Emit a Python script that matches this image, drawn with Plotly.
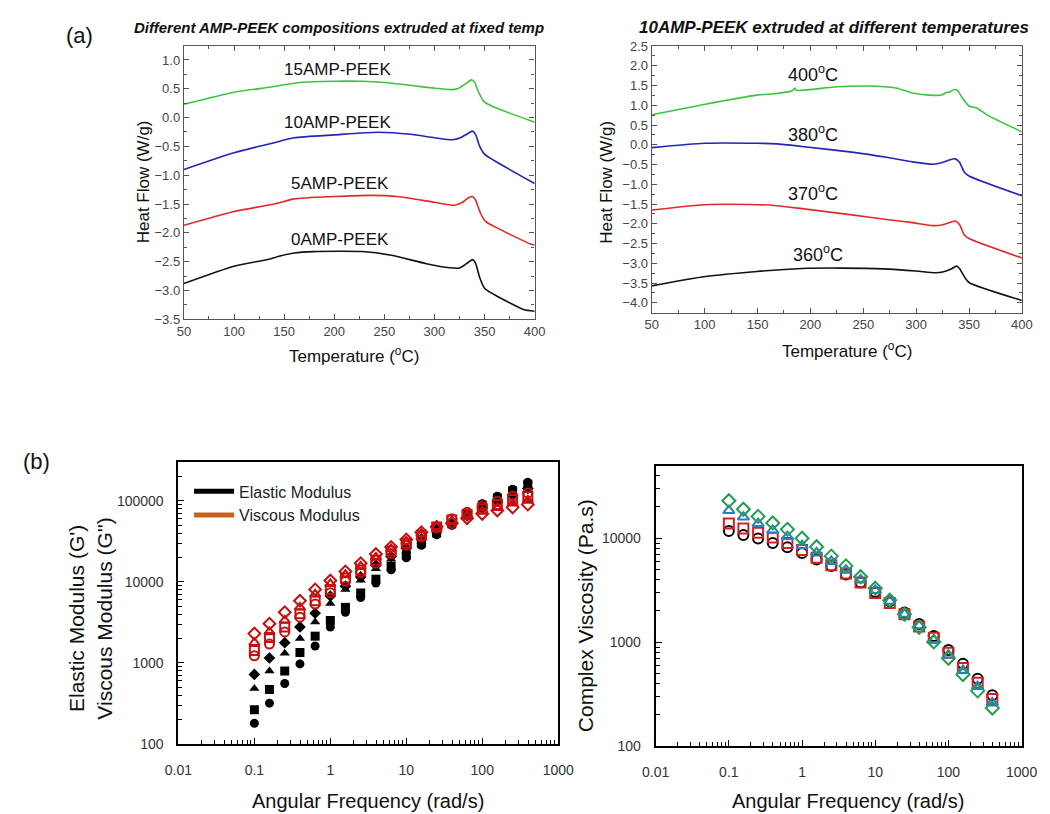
import plotly.graph_objects as go

FONT = "Arial, 'Liberation Sans', Helvetica, sans-serif"

# ---------------- (a) left: different compositions ----------------
t_15amp = [50, 100, 137, 150, 166, 200, 228, 250, 276, 300, 317, 323, 331, 337, 340, 344, 349, 357, 400]
h_15amp = [0.23, 0.44, 0.53, 0.57, 0.61, 0.63, 0.63, 0.61, 0.56, 0.51, 0.485, 0.50, 0.585, 0.655, 0.615, 0.445, 0.285, 0.20, -0.08]

t_10amp = [50, 100, 137, 160, 200, 244, 276, 300, 318, 326, 333, 338, 341, 345, 350, 360, 400]
h_10amp = [-0.90, -0.61, -0.45, -0.35, -0.30, -0.255, -0.29, -0.35, -0.385, -0.35, -0.28, -0.235, -0.29, -0.49, -0.635, -0.75, -1.145]

t_5amp = [50, 100, 140, 160, 200, 237, 263, 300, 320, 328, 334, 338, 341, 346, 351, 362, 396, 400]
h_5amp = [-1.87, -1.63, -1.50, -1.41, -1.37, -1.35, -1.37, -1.47, -1.52, -1.47, -1.39, -1.37, -1.43, -1.66, -1.80, -1.91, -2.195, -2.21]

t_0amp = [50, 100, 137, 144, 160, 179, 228, 257, 292, 315, 325, 332, 338, 341, 345, 350, 360, 389, 400]
h_0amp = [-2.88, -2.58, -2.45, -2.41, -2.35, -2.325, -2.325, -2.39, -2.535, -2.605, -2.61, -2.535, -2.465, -2.525, -2.765, -2.96, -3.075, -3.33, -3.36]

labels_left = ["15AMP-PEEK", "10AMP-PEEK", "5AMP-PEEK", "0AMP-PEEK"]
label_left_x = [203, 203, 206, 206]
label_left_y = [0.83, -0.09, -1.14, -2.12]

# ---------------- (a) right: different extrusion temperatures ----------------
t_400c = [50, 100.5, 149.5, 168, 183, 185, 187, 223, 253.6, 281, 296.5, 312, 324, 328.6, 331.7, 336, 339, 344, 350, 357.7, 367, 400]
h_400c = [0.76, 1.03, 1.26, 1.30, 1.37, 1.43, 1.38, 1.465, 1.49, 1.44, 1.315, 1.26, 1.26, 1.325, 1.34, 1.40, 1.38, 1.175, 0.985, 0.925, 0.76, 0.33]

t_380c = [50, 100, 150, 168, 192, 241, 272, 296.5, 316, 324, 332, 337, 341, 345.5, 350, 400]
h_380c = [-0.07, 0.04, 0.04, 0.025, -0.04, -0.19, -0.315, -0.43, -0.49, -0.455, -0.375, -0.355, -0.44, -0.69, -0.79, -1.29]

t_370c = [50, 100, 150, 168, 192, 241, 272, 296.5, 316, 324, 332, 337, 341, 345.5, 350, 400]
h_370c = [-1.65, -1.515, -1.515, -1.54, -1.615, -1.78, -1.89, -1.97, -2.045, -2.03, -1.965, -1.93, -2.015, -2.28, -2.37, -2.865]

t_360c = [50, 100.5, 149.5, 192, 229, 269, 300, 318, 326, 334, 338, 341, 345.5, 350, 400]
h_360c = [-3.57, -3.335, -3.205, -3.13, -3.12, -3.14, -3.195, -3.24, -3.215, -3.13, -3.07, -3.13, -3.335, -3.485, -3.94]

labels_right = ["400<sup>o</sup>C", "380<sup>o</sup>C", "370<sup>o</sup>C", "360<sup>o</sup>C"]
label_right_x = [202, 202, 202, 207]
label_right_y = [1.81, 0.30, -1.21, -2.74]

# ---------------- (b) rheology ----------------
freq = [0.1, 0.158, 0.251, 0.398, 0.631, 1.0, 1.58, 2.51, 3.98, 6.31, 10.0, 15.8, 25.1, 39.8, 63.1, 100, 158, 251, 398]

gp_circle = [180, 319, 557, 973, 1620, 2780, 4220, 6400, 9700, 14100, 19800, 28200, 38000, 50000, 68000, 92000, 114000, 139000, 169000]
gp_square = [265, 471, 795, 1345, 2140, 3340, 4850, 7300, 10800, 15500, 21500, 30000, 40000, 52000, 67000, 88000, 108000, 132000, 160000]
gp_triangle = [485, 795, 1320, 2000, 3190, 5420, 8070, 10500, 14500, 19000, 24000, 32000, 42000, 54000, 66000, 85000, 102000, 125000, 150000]
gp_diamond = [722, 1150, 1780, 2780, 4100, 6700, 8850, 11500, 16000, 20500, 26000, 34000, 44000, 55000, 65000, 82000, 98000, 118000, 142000]

gpp_circle = [1225, 1710, 2415, 3670, 5320, 7360, 10170, 13000, 17000, 22400, 28200, 36000, 47000, 60000, 72000, 86000, 99000, 114000, 125000]
gpp_square = [1420, 2060, 2780, 4030, 5840, 8070, 11170, 14000, 18500, 24000, 30000, 37500, 47500, 58000, 68000, 80000, 90000, 104000, 113000]
gpp_triangle = [1780, 2415, 3340, 4850, 7020, 9460, 12240, 15500, 20000, 25500, 31500, 39000, 48000, 56000, 65000, 74000, 82000, 93000, 101000]
gpp_diamond = [2300, 3050, 4220, 5840, 8070, 10380, 13430, 17000, 22000, 27000, 33400, 41000, 48000, 53000, 61000, 69000, 76000, 83000, 90000]

eta_circle = [11720, 10740, 9930, 8980, 8170, 7230, 6250, 5420, 4490, 3750, 3040, 2480, 1930, 1500, 1148, 841, 621, 445, 310]
eta_square = [13840, 12420, 11300, 10140, 8980, 7710, 6490, 5500, 4590, 3750, 2970, 2390, 1860, 1415, 1107, 794, 565, 408, 285]
eta_triangle = [18460, 15990, 13840, 11890, 10370, 8470, 7230, 5990, 4930, 3970, 3150, 2480, 1860, 1445, 1060, 755, 537, 375, 261]
eta_diamond = [22960, 19010, 16220, 14030, 12170, 10000, 8280, 6730, 5420, 4270, 3310, 2540, 1860, 1395, 1007, 702, 489, 341, 233]

freq_ticks = [0.01, 0.1, 1, 10, 100, 1000]
freq_ticktext = ["0.01", "0.1", "1", "10", "100", "1000"]
mod_ticks = [100, 1000, 10000, 100000]
mod_ticktext = ["100", "1000", "10000", "100000"]
eta_ticks = [100, 1000, 10000]
eta_ticktext = ["100", "1000", "10000"]

GREEN = "#3dc43d"
BLUE = "#2424b8"
RED = "#e02a2a"
BLACK = "#111111"

fig = go.Figure()

for t, h, c in [(t_15amp, h_15amp, GREEN), (t_10amp, h_10amp, BLUE),
                (t_5amp, h_5amp, RED), (t_0amp, h_0amp, BLACK)]:
    fig.add_trace(go.Scatter(x=t, y=h, mode="lines", line=dict(color=c, width=1.6, shape="spline", smoothing=0.6),
                             showlegend=False, xaxis="x", yaxis="y"))
for t, h, c in [(t_400c, h_400c, GREEN), (t_380c, h_380c, BLUE),
                (t_370c, h_370c, RED), (t_360c, h_360c, BLACK)]:
    fig.add_trace(go.Scatter(x=t, y=h, mode="lines", line=dict(color=c, width=1.6, shape="spline", smoothing=0.6),
                             showlegend=False, xaxis="x2", yaxis="y2"))

DARKRED = "#c80f0f"
for vals, sym in [(gp_circle, "circle"), (gp_square, "square"), (gp_triangle, "triangle-up"), (gp_diamond, "diamond")]:
    fig.add_trace(go.Scatter(x=freq, y=vals, mode="markers",
                             marker=dict(symbol=sym, size=9, color="black", line=dict(width=0)),
                             showlegend=False, xaxis="x3", yaxis="y3"))
for vals, sym in [(gpp_circle, "circle-open"), (gpp_square, "square-open"), (gpp_triangle, "triangle-up-open"), (gpp_diamond, "diamond-open")]:
    fig.add_trace(go.Scatter(x=freq, y=vals, mode="markers",
                             marker=dict(symbol=sym, size=9, color=DARKRED, line=dict(width=2, color=DARKRED)),
                             showlegend=False, xaxis="x3", yaxis="y3"))

fig.add_trace(go.Scatter(x=[None], y=[None], mode="lines", line=dict(color="black", width=5),
                         name="Elastic Modulus", xaxis="x3", yaxis="y3"))
fig.add_trace(go.Scatter(x=[None], y=[None], mode="lines", line=dict(color="#c8601e", width=5),
                         name="Viscous Modulus", xaxis="x3", yaxis="y3"))

for vals, sym, col in [(eta_circle, "circle-open", "black"), (eta_square, "square-open", "#d42020"),
                       (eta_triangle, "triangle-up-open", "#2a7ec6"), (eta_diamond, "diamond-open", "#1ea050")]:
    fig.add_trace(go.Scatter(x=freq, y=vals, mode="markers",
                             marker=dict(symbol=sym, size=10, color=col, line=dict(width=2, color=col)),
                             showlegend=False, xaxis="x4", yaxis="y4"))

W, H = 1050, 814

def px(x):
    return x / W

def py(y):
    return 1 - y / H

top_common = dict(showgrid=False, zeroline=False, showline=True, linecolor="#555555", linewidth=1.3,
                  mirror="allticks", ticks="inside", ticklen=5, tickwidth=1.2, tickcolor="#555555",
                  tickfont=dict(family=FONT, size=13, color="#444444"))
top_minor = dict(ticks="inside", ticklen=3, tickwidth=1, tickcolor="#555555", showgrid=False)

bot_common = dict(showgrid=False, zeroline=False, showline=True, linecolor="black", linewidth=2,
                  mirror=True, ticks="inside", ticklen=6, tickwidth=1.3, tickcolor="black", type="log",
                  tickfont=dict(family=FONT, size=14, color="#333333"), tickmode="array")
minor_log = [m * 10 ** e for e in range(-2, 6) for m in range(2, 10)]
bot_minor = dict(ticks="inside", ticklen=4, tickwidth=1.2, tickcolor="black", showgrid=False,
                 tickmode="array", tickvals=minor_log)

fig.update_layout(
    width=W, height=H, margin=dict(l=0, r=0, t=0, b=0),
    paper_bgcolor="white", plot_bgcolor="white",
    font=dict(family=FONT, color="black", size=14),
    showlegend=True,
    legend=dict(x=px(172), y=py(468), xanchor="left", yanchor="top", bgcolor="rgba(0,0,0,0)",
                font=dict(family=FONT, size=16, color="#222222"), tracegroupgap=0, itemwidth=40),
    xaxis=dict(domain=[px(166.7), px(527.7)], anchor="y", range=[50, 400], tick0=50, dtick=50,
               minor=dict(dtick=25, **top_minor), **top_common),
    yaxis=dict(domain=[py(310), py(31.7)], anchor="x", range=[-3.5, 1.24], tick0=0, dtick=0.5,
               tickformat=".1f", minor=dict(dtick=0.25, **top_minor), **top_common),
    xaxis2=dict(domain=[px(648.3), px(1029.3)], anchor="y2", range=[50, 400], tick0=50, dtick=50,
                minor=dict(dtick=25, **top_minor), **top_common),
    yaxis2=dict(domain=[py(303.3), py(31.7)], anchor="x2", range=[-4.25, 2.5], tick0=0, dtick=0.5,
                tickformat=".1f", minor=dict(dtick=0.25, **top_minor), **top_common),
    xaxis3=dict(domain=[px(161), px(552)], anchor="y3", range=[-2, 3], tickvals=freq_ticks,
                ticktext=freq_ticktext, ticklabelstandoff=12, minor=bot_minor, **bot_common),
    yaxis3=dict(domain=[py(742.7), py(455.7)], anchor="x3", range=[2, 5.475], tickvals=mod_ticks,
                ticktext=mod_ticktext, ticklabelstandoff=10, minor=bot_minor, **bot_common),
    xaxis4=dict(domain=[px(652.3), px(1029)], anchor="y4", range=[-2, 3], tickvals=freq_ticks,
                ticktext=freq_ticktext, ticklabelstandoff=12, minor=bot_minor, **bot_common),
    yaxis4=dict(domain=[py(745), py(459)], anchor="x4", range=[2, 4.699], tickvals=eta_ticks,
                ticktext=eta_ticktext, ticklabelstandoff=10, minor=bot_minor, **bot_common),
)

ann = []
for txt, x, y in zip(labels_left, label_left_x, label_left_y):
    ann.append(dict(text=txt, x=x, y=y, xref="x", yref="y", showarrow=False,
                    font=dict(family=FONT, size=17, color="#111111")))
for txt, x, y in zip(labels_right, label_right_x, label_right_y):
    ann.append(dict(text=txt, x=x, y=y, xref="x2", yref="y2", showarrow=False,
                    font=dict(family=FONT, size=18, color="#111111")))

# free-standing labels: (text, x_px, y_px, font size, angle)
free_texts = [
    ("(a)", 59, 21, 22, 0),
    ("(b)", 15, 455, 22, 0),
    ("<b><i>Different AMP-PEEK compositions extruded at fixed temp</i></b>", 326, 13, 15, 0),
    ("<b><i>10AMP-PEEK extruded at different temperatures</i></b>", 836, 13, 17, 0),
    ("Heat Flow (W/g)", 125, 170, 17, -90),
    ("Temperature (<sup>o</sup>C)", 342, 346, 17, 0),
    ("Heat Flow (W/g)", 602, 170, 17, -90),
    ("Temperature (<sup>o</sup>C)", 849, 341, 17, 0),
    ("Elastic Modulus (G')<br>Viscous Modulus (G'')", 70, 615, 21, -90),
    ("Angular Frequency (rad/s)", 356, 801, 20, 0),
    ("Complex Viscosity (Pa.s)", 580, 612, 21, -90),
    ("Angular Frequency (rad/s)", 850, 801, 20, 0),
]
for txt, x, y, size, angle in free_texts:
    ann.append(dict(text=txt, x=px(x), y=py(y), xref="paper", yref="paper", showarrow=False,
                    xanchor="center", yanchor="middle", textangle=angle,
                    font=dict(family=FONT, size=size, color="#111111")))

fig.update_layout(annotations=ann)

fig.write_html("out.html")
